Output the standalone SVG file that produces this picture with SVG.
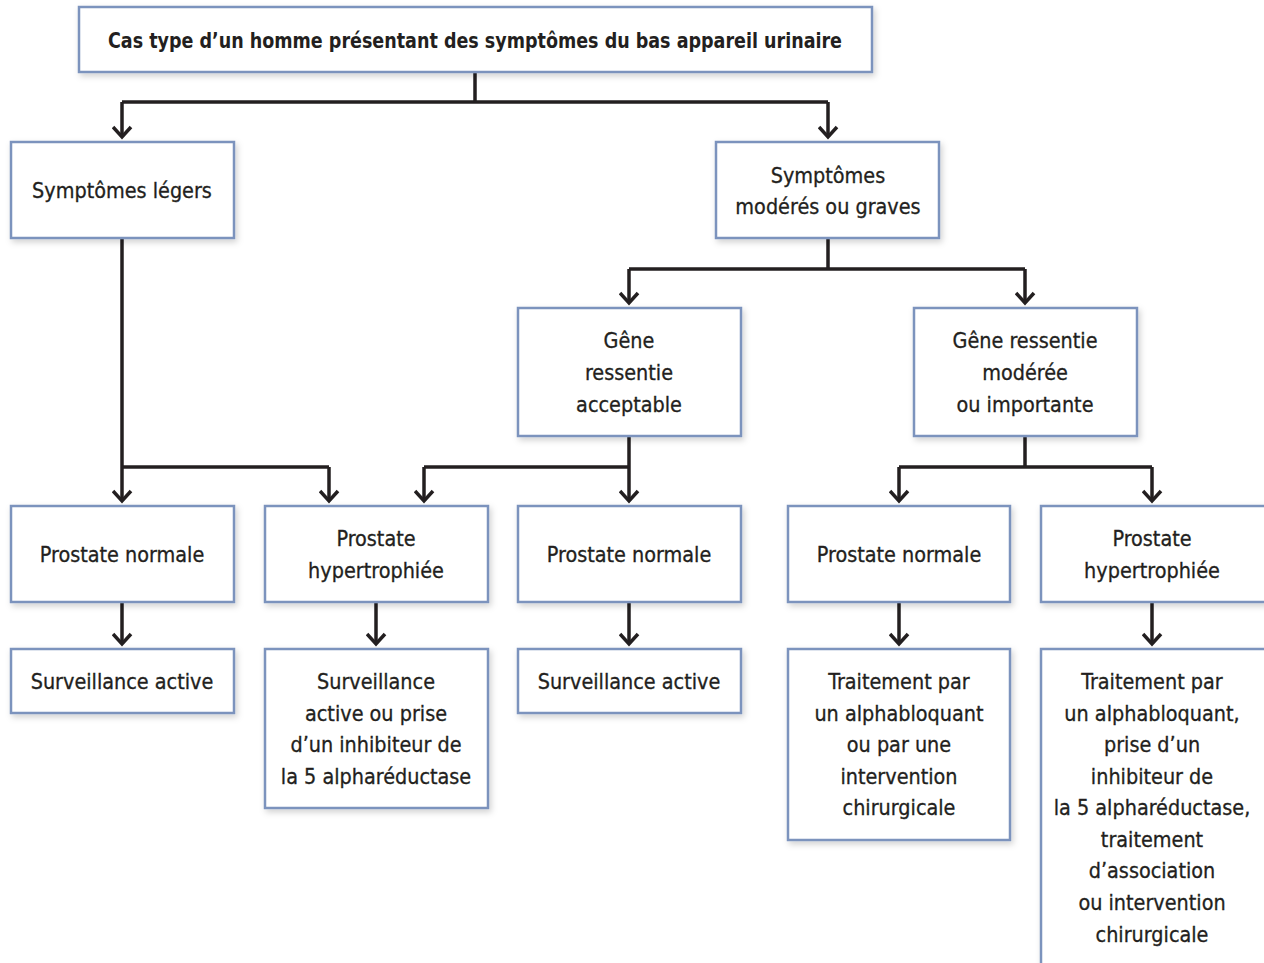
<svg xmlns="http://www.w3.org/2000/svg" width="1264" height="963" viewBox="0 0 1264 963">
<style>
.box{fill:#fff;stroke:#7b93bd;stroke-width:2.5;filter:url(#sh)}
.t{font-family:"Liberation Sans Narrow","DejaVu Sans Condensed","Roboto Condensed",sans-serif;font-size:21.4px;fill:#231f20;text-anchor:middle;stroke:#231f20;stroke-width:0.3}
.b{font-weight:bold;stroke-width:0}
.c{fill:none;stroke:#231f20;stroke-width:3.5}
.a{marker-end:url(#arr)}
</style>
<defs>
<filter id="sh" x="-10%" y="-10%" width="130%" height="130%">
<feDropShadow dx="2" dy="3" stdDeviation="3" flood-color="#000" flood-opacity="0.18"/>
</filter>
<marker id="arr" markerUnits="userSpaceOnUse" markerWidth="30" markerHeight="30" refX="15" refY="20" viewBox="0 0 30 30" orient="auto-start-reverse">
<path d="M6,10 L15,20 L24,10" fill="none" stroke="#231f20" stroke-width="3.5" transform="rotate(-90 15 20)"/>
</marker>
</defs>
<g id="connectors">
<path class="c" d="M475,72 V102 M122,102 H828"/>
<path class="c a" d="M122,102 V137"/>
<path class="c a" d="M828,102 V137"/>
<path class="c" d="M828,238 V269 M629,269 H1025"/>
<path class="c a" d="M629,269 V303"/>
<path class="c a" d="M1025,269 V303"/>
<path class="c a" d="M122,238 V501"/>
<path class="c" d="M122,467 H329"/>
<path class="c a" d="M329,467 V501"/>
<path class="c a" d="M629,436 V501"/>
<path class="c" d="M424,467 H629"/>
<path class="c a" d="M424,467 V501"/>
<path class="c" d="M1025,436 V467 M899,467 H1152"/>
<path class="c a" d="M899,467 V501"/>
<path class="c a" d="M1152,467 V501"/>
<path class="c a" d="M122,602 V644"/>
<path class="c a" d="M376,602 V644"/>
<path class="c a" d="M629,602 V644"/>
<path class="c a" d="M899,602 V644"/>
<path class="c a" d="M1152,602 V644"/>
</g>
<g id="n0"><rect class="box" x="79" y="7" width="793" height="65"/><text class="t b" x="475" y="48" textLength="734" lengthAdjust="spacingAndGlyphs">Cas type d’un homme présentant des symptômes du bas appareil urinaire</text></g>
<g id="n1"><rect class="box" x="11" y="142" width="223" height="96"/><text class="t" x="122" y="198">Symptômes légers</text></g>
<g id="n2"><rect class="box" x="716" y="142" width="223" height="96"/><text class="t" x="828" y="183">Symptômes</text><text class="t" x="828" y="214">modérés ou graves</text></g>
<g id="n3"><rect class="box" x="518" y="308" width="223" height="128"/><text class="t" x="629" y="348">Gêne</text><text class="t" x="629" y="380">ressentie</text><text class="t" x="629" y="412">acceptable</text></g>
<g id="n4"><rect class="box" x="914" y="308" width="223" height="128"/><text class="t" x="1025" y="348">Gêne ressentie</text><text class="t" x="1025" y="380">modérée</text><text class="t" x="1025" y="412">ou importante</text></g>
<g id="n5"><rect class="box" x="11" y="506" width="223" height="96"/><text class="t" x="122" y="562">Prostate normale</text></g>
<g id="n6"><rect class="box" x="265" y="506" width="223" height="96"/><text class="t" x="376" y="546">Prostate</text><text class="t" x="376" y="578">hypertrophiée</text></g>
<g id="n7"><rect class="box" x="518" y="506" width="223" height="96"/><text class="t" x="629" y="562">Prostate normale</text></g>
<g id="n8"><rect class="box" x="788" y="506" width="222" height="96"/><text class="t" x="899" y="562">Prostate normale</text></g>
<g id="n9"><rect class="box" x="1041" y="506" width="225" height="96"/><text class="t" x="1152" y="546">Prostate</text><text class="t" x="1152" y="578">hypertrophiée</text></g>
<g id="n10"><rect class="box" x="11" y="649" width="223" height="64"/><text class="t" x="122" y="689">Surveillance active</text></g>
<g id="n11"><rect class="box" x="265" y="649" width="223" height="159"/><text class="t" x="376" y="689">Surveillance</text><text class="t" x="376" y="721">active ou prise</text><text class="t" x="376" y="752">d’un inhibiteur de</text><text class="t" x="376" y="784">la 5 alpharéductase</text></g>
<g id="n12"><rect class="box" x="518" y="649" width="223" height="64"/><text class="t" x="629" y="689">Surveillance active</text></g>
<g id="n13"><rect class="box" x="788" y="649" width="222" height="191"/><text class="t" x="899" y="689">Traitement par</text><text class="t" x="899" y="721">un alphabloquant</text><text class="t" x="899" y="752">ou par une</text><text class="t" x="899" y="784">intervention</text><text class="t" x="899" y="815">chirurgicale</text></g>
<g id="n14"><rect class="box" x="1041" y="649" width="225" height="330"/><text class="t" x="1152" y="689">Traitement par</text><text class="t" x="1152" y="721">un alphabloquant,</text><text class="t" x="1152" y="752">prise d’un</text><text class="t" x="1152" y="784">inhibiteur de</text><text class="t" x="1152" y="815">la 5 alpharéductase,</text><text class="t" x="1152" y="847">traitement</text><text class="t" x="1152" y="878">d’association</text><text class="t" x="1152" y="910">ou intervention</text><text class="t" x="1152" y="942">chirurgicale</text></g>
</svg>
